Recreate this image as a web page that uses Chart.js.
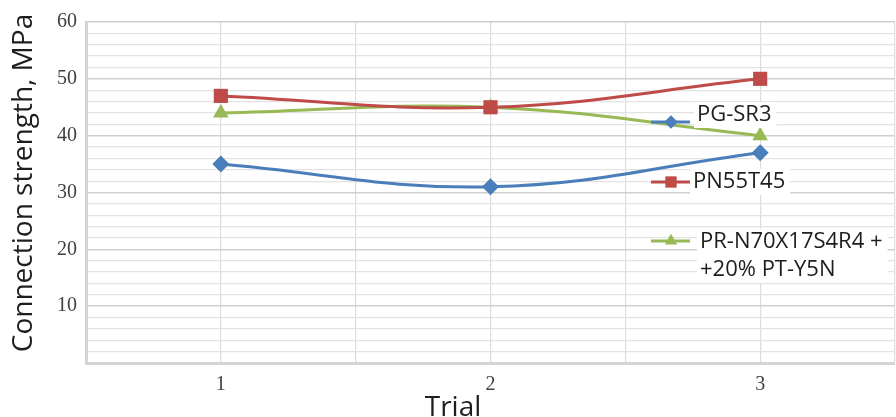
<!DOCTYPE html>
<html>
<head>
<meta charset="utf-8">
<script src="https://cdn.jsdelivr.net/npm/chart.js@4/dist/chart.umd.min.js"></script>
<style>
  html, body { margin: 0; padding: 0; background: #fff; }
  #wrap { width: 896px; height: 417px; position: relative; }
</style>
</head>
<body>
<div id="wrap"><canvas id="strengthChart"></canvas></div>
<script>
// -----------------------------
// DATA
// -----------------------------
const trials = [1, 2, 3];
const trialLabels = ["1", "2", "3"];

const seriesNames = [
    "PG-SR3",
    "PN55T45",
    ["PR-N70X17S4R4 +", "+20% PT-Y5N"]
];
const pgSr3 = [35, 31, 37];
const pn55t45 = [47, 45, 50];
const prN70 = [44, 45, 40];

const yTickLabels = [10, 20, 30, 40, 50, 60];

const yTitle = "Connection strength, MPa";
const xTitle = "Trial";


// -----------------------------
// HELPERS
// -----------------------------
function toPoints(values) {
    return values.map((v, i) => ({ x: trials[i], y: v }));
}

function makeSet(label, values, color, pointStyle, radius) {
    return {
        label: label,
        data: toPoints(values),
        borderColor: color,
        backgroundColor: color,
        borderWidth: 3,
        tension: 0.4,
        pointStyle: pointStyle,
        pointRadius: radius,
        pointBorderWidth: 0,
        pointHoverRadius: radius
    };
}


// -----------------------------
// CUSTOM LEGEND + AXIS TITLES
// -----------------------------
const excelLegend = {
    id: "excelLegend",
    afterDatasetsDraw(chart, args, opts) {
        const ctx = chart.ctx;
        ctx.save();
        ctx.font = opts.font;
        ctx.textBaseline = "middle";
        chart.data.datasets.forEach((ds, i) => {
            const pos = opts.items[i];
            const lines = Array.isArray(ds.label) ? ds.label : [ds.label];

            // white box behind text
            let w = 0;
            lines.forEach(l => { w = Math.max(w, ctx.measureText(l).width); });
            ctx.fillStyle = "#fff";
            ctx.fillRect(pos.tx - 3, pos.ty - 13, w + 8, 26 + (lines.length - 1) * opts.lineGap);

            // line sample
            ctx.strokeStyle = ds.borderColor;
            ctx.lineWidth = 3;
            ctx.beginPath();
            ctx.moveTo(pos.x, pos.y);
            ctx.lineTo(pos.x + 39, pos.y);
            ctx.stroke();

            // marker
            ctx.fillStyle = ds.backgroundColor;
            Chart.helpers.drawPoint(ctx, {
                pointStyle: ds.pointStyle,
                radius: ds.pointRadius * 0.8,
                rotation: 0,
                borderWidth: 0
            }, pos.x + 20, pos.y);

            // text
            ctx.fillStyle = "#1e1e1e";
            lines.forEach((l, k) => ctx.fillText(l, pos.tx, pos.ty + k * opts.lineGap));
        });
        ctx.restore();
    },
    afterDraw(chart, args, opts) {
        const ctx = chart.ctx;
        ctx.save();
        ctx.fillStyle = "#1e1e1e";
        ctx.font = opts.titleFont;
        ctx.textAlign = "center";
        ctx.textBaseline = "middle";
        ctx.fillText(xTitle, opts.xTitlePos.x, opts.xTitlePos.y);
        ctx.translate(opts.yTitlePos.x, opts.yTitlePos.y);
        ctx.rotate(-Math.PI / 2);
        ctx.fillText(yTitle, 0, 0);
        ctx.restore();
    }
};


// -----------------------------
// CHART
// -----------------------------
const ctx = document.getElementById("strengthChart").getContext("2d");

new Chart(ctx, {
    type: "line",
    data: {
        datasets: [
            makeSet(seriesNames[0], pgSr3, "#4a7ebb", "rectRot", 8.5),
            makeSet(seriesNames[1], pn55t45, "#be4b48", "rect", 10),
            makeSet(seriesNames[2], prN70, "#98b954", "triangle", 9)
        ]
    },
    options: {
        responsive: true,
        maintainAspectRatio: false,
        animation: false,
        layout: {
            autoPadding: false,
            padding: { top: 22, right: 1, left: 0, bottom: 0 }
        },
        scales: {
            x: {
                type: "linear",
                min: 0.5,
                max: 3.5,
                afterFit: s => { s.height = 54; s.paddingLeft = 0; s.paddingRight = 0; },
                afterBuildTicks: s => {
                    s.ticks = [];
                    for (let v = 0.5; v <= 3.5; v += 0.5) s.ticks.push({ value: v });
                },
                ticks: {
                    padding: 10,
                    color: "#404040",
                    font: { family: "Liberation Serif", size: 20 },
                    callback: v => {
                        const i = trials.indexOf(v);
                        return i >= 0 ? trialLabels[i] : "";
                    }
                },
                grid: { color: "#dcdcdc", lineWidth: 1.2, drawTicks: false },
                border: { color: "#d4d4d4", width: 3 }
            },
            y: {
                min: 0,
                max: 60,
                afterFit: s => { s.width = 86; s.paddingTop = 0; s.paddingBottom = 0; },
                ticks: {
                    stepSize: 2,
                    autoSkip: false,
                    padding: 9,
                    color: "#404040",
                    font: { family: "Liberation Serif", size: 20 },
                    callback: v => yTickLabels.includes(v) ? String(v) : ""
                },
                grid: {
                    drawTicks: false,
                    color: c => (c.tick && c.tick.value % 10 === 0) ? "#d0d0d0" : "#e2e2e2",
                    lineWidth: c => (c.tick && c.tick.value % 10 === 0) ? 1.6 : 1.2
                },
                border: { color: "#d4d4d4", width: 3 }
            }
        },
        plugins: {
            legend: { display: false },
            tooltip: { enabled: false },
            excelLegend: {
                font: "22px 'Open Sans'",
                titleFont: "28px 'Open Sans'",
                lineGap: 28,
                items: [
                    { x: 651, y: 122, tx: 697, ty: 115 },
                    { x: 651, y: 182, tx: 693, ty: 182 },
                    { x: 651, y: 241, tx: 700, ty: 242 }
                ],
                xTitlePos: { x: 453, y: 408 },
                yTitlePos: { x: 24, y: 183 }
            }
        }
    },
    plugins: [excelLegend]
});
</script>
</body>
</html>
